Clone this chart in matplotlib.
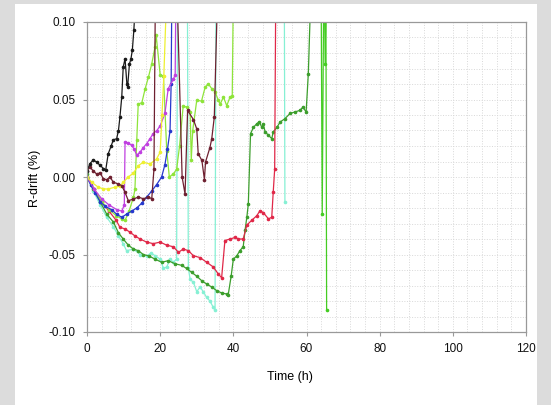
import matplotlib
matplotlib.use("Agg")
import matplotlib.pyplot as plt
from matplotlib.patches import Rectangle
from matplotlib.ticker import MultipleLocator

plt.rcParams['font.family'] = ['Liberation Sans', 'DejaVu Sans']

# values above 0.10 run off the top of the plot (clipped)
black_t = [0, 0.8, 1.7, 2.6, 3.6, 4.5, 5.1, 5.8, 6.6, 7.2, 8.1, 8.6, 9.0, 9.5, 9.9, 10.4,
           10.9, 11.1, 11.6, 12.0, 12.4, 12.8, 13.3]
black_r = [0.004, 0.0086, 0.011, 0.0097, 0.0075, 0.0054, 0.0043, 0.015, 0.020, 0.024, 0.0247,
           0.030, 0.0387, 0.0516, 0.071, 0.0763, 0.060, 0.058, 0.073, 0.076, 0.082, 0.0946, 0.115]

brown_t = [0, 0.8, 1.7, 2.6, 3.6, 4.5, 5.4, 6.3, 7.2, 8.6, 9.5, 10.4, 11.3, 12.7, 14.0, 15.4,
           16.8, 17.7, 18.3, 18.7, 24.6, 26.0, 26.8, 27.5, 29.1, 30.0, 30.4, 31.4, 32.1, 32.4,
           33.6, 34.1, 34.8, 35.7]
brown_r = [0.004, 0.0063, 0.004, 0.002, 0.0026, -0.0013, -0.0017, 0.0, -0.0034, -0.0045, -0.0056,
           -0.0099, -0.0153, -0.0142, -0.013, -0.014, -0.013, -0.014, 0.005, 0.12, 0.12, 0.0,
           -0.011, 0.043, 0.037, 0.031, 0.015, 0.0107, -0.0017, 0.0097, 0.019, 0.0247, 0.0387, 0.12]

yellow_t = [0, 1.3, 3.1, 4.5, 5.8, 7.6, 9.0, 9.9, 11.3, 12.7, 14.0, 15.4, 17.2, 19.0, 20.0,
            20.5, 21.0, 21.8]
yellow_r = [0.0, -0.0034, -0.0066, -0.0077, -0.0077, -0.0066, -0.006, -0.0034, 0.0, 0.0026,
            0.0073, 0.0095, 0.0084, 0.0116, 0.016, 0.04, 0.065, 0.12]

blue_t = [0, 1.0, 2.2, 3.6, 5.0, 6.7, 8.1, 9.5, 10.8, 12.2, 13.6, 14.9, 16.3, 17.7, 19.0, 20.4,
          21.3, 22.0, 22.7, 23.0, 23.2]
blue_r = [0.0, -0.005, -0.010, -0.016, -0.019, -0.021, -0.024, -0.026, -0.024, -0.022, -0.020,
          -0.017, -0.013, -0.009, -0.005, 0.0, 0.008, 0.018, 0.030, 0.060, 0.12]

magenta_t = [0, 2.0, 4.0, 6.0, 8.1, 9.5, 10.2, 10.4, 11.3, 12.2, 12.9, 13.6, 14.5, 15.4, 16.3,
             17.2, 18.1, 19.1, 20.0, 21.3, 22.2, 23.6, 24.1, 24.3]
magenta_r = [0.0, -0.008, -0.014, -0.018, -0.021, -0.022, -0.018, 0.0226, 0.022, 0.0204, 0.018,
             0.014, 0.016, 0.019, 0.0215, 0.0247, 0.028, 0.030, 0.033, 0.041, 0.057, 0.063, 0.066, 0.12]

lime_t = [0, 2.0, 4.0, 6.0, 8.0, 9.5, 10.4, 11.5, 12.7, 13.1, 13.6, 14.0, 15.0, 15.9, 16.8, 17.7,
          18.6, 18.9, 20.0, 20.9, 21.8, 22.5, 23.6, 24.5, 25.3, 26.3, 27.2, 28.2, 28.5, 28.9,
          30.0, 31.3, 32.3, 33.2, 34.1, 35.0, 35.9, 36.4, 37.3, 38.2, 39.1, 39.7, 40.0]
lime_r = [0.0, -0.008, -0.016, -0.021, -0.025, -0.027, -0.028, -0.022, -0.013, -0.008, 0.0237,
          0.047, 0.048, 0.057, 0.0645, 0.073, 0.084, 0.0916, 0.066, 0.065, 0.017, 0.0, 0.002,
          0.005, 0.02, 0.046, 0.045, 0.042, 0.011, 0.03, 0.0495, 0.049, 0.058, 0.060, 0.057,
          0.055, 0.0495, 0.047, 0.0516, 0.046, 0.0516, 0.052, 0.12]

cyan_t = [0, 1.7, 3.6, 5.4, 7.2, 8.6, 9.9, 10.8, 12.7, 14.5, 16.3, 17.5, 18.6, 20.0, 20.9, 21.8,
          22.7, 23.6, 24.5, 24.8, 27.4, 27.7, 28.2, 29.1, 30.0, 30.9, 31.8, 32.7, 33.6, 34.5,
          35.0, 35.3, 53.9, 54.1]
cyan_r = [0.0, -0.009, -0.018, -0.026, -0.032, -0.038, -0.043, -0.0475, -0.0465, -0.050, -0.051,
          -0.049, -0.0508, -0.053, -0.059, -0.058, -0.053, -0.055, -0.053, 0.15, 0.15, -0.059,
          -0.066, -0.068, -0.074, -0.071, -0.074, -0.0777, -0.080, -0.084, -0.086, 0.15, 0.15, -0.016]

red_t = [0, 2.0, 4.0, 6.0, 8.0, 9.0, 10.4, 11.8, 13.1, 14.5, 16.3, 18.1, 20.0, 21.8, 23.6, 25.0,
         26.3, 27.7, 29.1, 30.9, 32.7, 34.5, 35.9, 36.8, 37.7, 39.1, 40.5, 41.4, 42.7, 43.7,
         45.0, 46.4, 47.3, 48.2, 49.6, 50.5, 50.9, 51.3, 51.6]
red_r = [0.0, -0.008, -0.016, -0.022, -0.028, -0.0325, -0.0335, -0.0357, -0.038, -0.040, -0.042,
         -0.043, -0.042, -0.044, -0.045, -0.0486, -0.0465, -0.0475, -0.0508, -0.052, -0.055,
         -0.058, -0.0626, -0.065, -0.041, -0.040, -0.039, -0.040, -0.040, -0.031, -0.028,
         -0.025, -0.0217, -0.023, -0.027, -0.026, -0.0099, 0.005, 0.12]

green_t = [0, 1.7, 3.6, 5.4, 7.2, 8.6, 9.9, 11.3, 12.7, 14.0, 15.4, 17.0, 18.6, 20.4, 22.2, 24.1,
           25.9, 27.2, 28.6, 30.0, 31.4, 32.7, 34.1, 35.5, 36.8, 38.2, 38.6, 39.4, 40.0, 40.9,
           41.8, 42.7, 43.2, 43.7, 44.1, 44.7, 45.5, 46.4, 47.1, 47.8, 48.2, 48.7, 49.6, 50.5,
           50.9, 51.9, 52.8, 54.1, 55.5, 56.9, 58.2, 59.0, 59.9, 60.5, 61.2]
green_r = [0.002, -0.0077, -0.016, -0.024, -0.029, -0.036, -0.040, -0.044, -0.0465, -0.0475,
           -0.050, -0.051, -0.053, -0.055, -0.054, -0.056, -0.057, -0.059, -0.0615, -0.064,
           -0.067, -0.069, -0.071, -0.0734, -0.0748, -0.0755, -0.076, -0.064, -0.053, -0.051,
           -0.0475, -0.045, -0.0344, -0.0258, -0.0172, 0.028, 0.032, 0.0344, 0.0355, 0.032,
           0.034, 0.029, 0.027, 0.0247, 0.029, 0.032, 0.0355, 0.0376, 0.041, 0.042, 0.043,
           0.045, 0.042, 0.0667, 0.12]

late_t = [64.0, 64.3, 64.7, 64.9, 65.1, 65.3, 65.5]
late_r = [0.12, -0.024, 0.12, 0.12, 0.073, 0.12, -0.086]

series = [
    (cyan_t, cyan_r, '#86f0d4'),
    (green_t, green_r, '#3c9e2c'),
    (late_t, late_r, '#44cc22'),
    (red_t, red_r, '#e02848'),
    (lime_t, lime_r, '#8ee43a'),
    (blue_t, blue_r, '#2638cc'),
    (magenta_t, magenta_r, '#c040e0'),
    (yellow_t, yellow_r, '#eef030'),
    (brown_t, brown_r, '#6e2030'),
    (black_t, black_r, '#1a1a1a'),
]

fig = plt.figure(figsize=(5.51, 4.05), dpi=100)
fig.patch.set_facecolor('#dcdcdc')
fig.patches.append(Rectangle((15 / 551, 0), 522 / 551, 401 / 405, transform=fig.transFigure,
                             facecolor='white', edgecolor='none', zorder=-10))

ax = fig.add_axes([87 / 551, 73 / 405, 439 / 551, 310 / 405])
ax.set_facecolor('white')

for t, r, c in series:
    ax.plot(t, r, color=c, lw=0.9, marker='o', ms=1.6, mec=c, mfc=c)

ax.set_xlim(0, 120)
ax.set_ylim(-0.10, 0.10)
ax.xaxis.set_major_locator(MultipleLocator(20))
ax.xaxis.set_minor_locator(MultipleLocator(4))
ax.yaxis.set_major_locator(MultipleLocator(0.05))
ax.yaxis.set_minor_locator(MultipleLocator(0.01))
ax.yaxis.set_major_formatter(matplotlib.ticker.FormatStrFormatter('%.2f'))
ax.grid(which='both', color='#d8d8d8', linestyle=':', linewidth=0.7)
ax.set_axisbelow(True)

for s in ax.spines.values():
    s.set_color('#999999')
    s.set_linewidth(0.9)
ax.tick_params(which='major', direction='out', length=3, color='#999999',
               labelsize=8.5, labelcolor='#111111', pad=5)
ax.tick_params(which='minor', length=0)

fig.text(290 / 551, 1 - 377 / 405, 'Time (h)', ha='center', va='center', fontsize=9)
fig.text(35 / 551, 1 - 178 / 405, 'R-drift (%)', ha='center', va='center', fontsize=9,
         rotation=90)

fig.savefig('out.png', dpi=100, facecolor=fig.get_facecolor())
